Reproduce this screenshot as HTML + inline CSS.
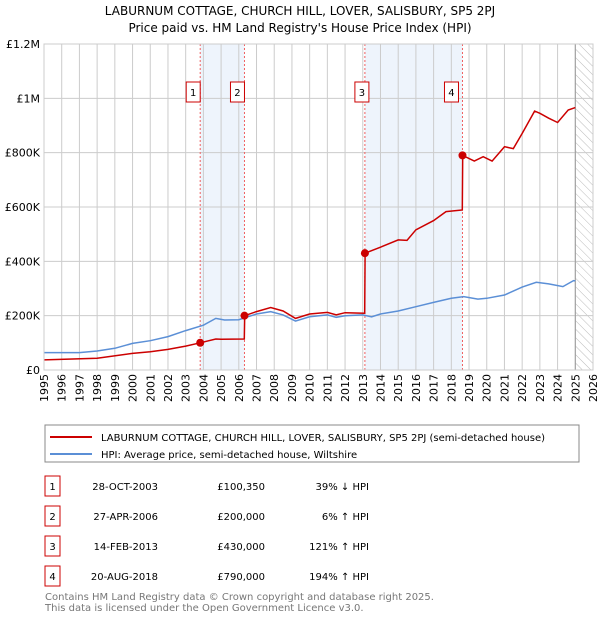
<!DOCTYPE html>
<html><head><meta charset="utf-8"><style>
body{margin:0;background:#fff;font-family:"Liberation Sans","DejaVu Sans",sans-serif;}
svg text{font-family:"DejaVu Sans","Liberation Sans",sans-serif;}
</style></head><body>
<svg width="600" height="620" viewBox="0 0 600 620">
<defs><pattern id="hatch" width="6" height="6" patternUnits="userSpaceOnUse" patternTransform="rotate(-45)"><line x1="0" y1="0" x2="0" y2="6" stroke="#bbb" stroke-width="1"/></pattern></defs>
<text x="300" y="15" text-anchor="middle" font-size="12">LABURNUM COTTAGE, CHURCH HILL, LOVER, SALISBURY, SP5 2PJ</text>
<text x="300" y="32" text-anchor="middle" font-size="12">Price paid vs. HM Land Registry's House Price Index (HPI)</text>
<g id="plot"></g>
<rect x="45" y="425" width="534" height="37" fill="#fff" stroke="#888"/>
<line x1="50" y1="437" x2="92" y2="437" stroke="#cc0000" stroke-width="2"/>
<text x="101" y="441" font-size="10">LABURNUM COTTAGE, CHURCH HILL, LOVER, SALISBURY, SP5 2PJ (semi-detached house)</text>
<line x1="50" y1="454" x2="92" y2="454" stroke="#5b8fd6" stroke-width="2"/>
<text x="101" y="458" font-size="10">HPI: Average price, semi-detached house, Wiltshire</text>
<g id="table" font-size="10"></g>
<text x="45" y="600" font-size="10" fill="#777">Contains HM Land Registry data © Crown copyright and database right 2025.</text>
<text x="45" y="611" font-size="10" fill="#777">This data is licensed under the Open Government Licence v3.0.</text>
</svg>
<script>
const yTicks=[0,200000,400000,600000,800000,1000000,1200000];
const yTickLabels=["£0","£200K","£400K","£600K","£800K","£1M","£1.2M"];
const years=[1995,1996,1997,1998,1999,2000,2001,2002,2003,2004,2005,2006,2007,2008,2009,2010,2011,2012,2013,2014,2015,2016,2017,2018,2019,2020,2021,2022,2023,2024,2025,2026];
const hpiT=[1995,1997,1998,1999,2000,2001,2002,2003,2004,2004.7,2005.2,2006,2007,2007.8,2008.5,2009.2,2010,2011,2011.5,2012,2013,2013.5,2014,2015,2016,2017,2018,2018.7,2019.5,2020,2021,2022,2022.8,2023.5,2024.3,2024.9,2025];
const hpiV=[64,64,70,80,98,108,123,145,165,190,184,185,206,215,203,180,196,203,194,200,203,196,206,217,233,249,264,270,261,264,276,305,323,317,307,329,328];
const priceT=[1995,1998,2000,2001,2002,2003,2003.82,2004.7,2005,2006.31,2006.33,2007,2007.8,2008.5,2009.2,2010,2011,2011.5,2012,2013.11,2013.13,2014,2015,2015.5,2016,2017,2017.7,2018.62,2018.64,2019.3,2019.8,2020.3,2021,2021.5,2022,2022.7,2023,2023.5,2024,2024.6,2025];
const priceV=[37,43,61,67,76,88,100,114,113,114,200,215,230,217,190,206,212,203,211,209,430,452,479,477,516,550,583,589,790,769,785,769,822,815,871,953,945,927,911,957,966];
const saleT=[2003.82,2006.32,2013.12,2018.63];
const saleV=[100350,200000,430000,790000];
const saleLabels=["1","2","3","4"];
const saleDates=["28-OCT-2003","27-APR-2006","14-FEB-2013","20-AUG-2018"];
const salePrices=["£100,350","£200,000","£430,000","£790,000"];
const saleHpi=["39% ↓ HPI","6% ↑ HPI","121% ↑ HPI","194% ↑ HPI"];
const X0=44,X1=593,Y0=370,Y1=44;
const sx=t=>X0+(t-1995)/(2026-1995)*(X1-X0);
const sy=v=>Y0-v/1200000*(Y0-Y1);
const NS="http://www.w3.org/2000/svg";
const plot=document.getElementById('plot');
function mk(tag,attrs,parent){const e=document.createElementNS(NS,tag);for(const k in attrs)e.setAttribute(k,attrs[k]);(parent||plot).appendChild(e);return e;}
mk('rect',{x:X0,y:Y1,width:X1-X0,height:Y0-Y1,fill:'#fff'});
for(const [a,b] of [[0,1],[2,3]]){const r=mk('rect',{x:sx(saleT[a]),y:Y1,width:sx(saleT[b])-sx(saleT[a]),height:Y0-Y1,fill:'#eef4fc'});

}
const h=mk('rect',{x:sx(2025),y:Y1,width:X1-sx(2025),height:Y0-Y1,fill:'url(#hatch)'});


years.forEach(y=>{mk('line',{x1:sx(y),x2:sx(y),y1:Y1,y2:Y0,stroke:'#ccc','stroke-width':1});
const x=sx(y)+4;
const t=mk('text',{x:x,y:374,'text-anchor':'end','font-size':11,transform:'rotate(-90 '+x+' 374)'});t.textContent=y;

});
yTicks.forEach((v,i)=>{mk('line',{x1:X0,x2:X1,y1:sy(v),y2:sy(v),stroke:'#ccc','stroke-width':1});
const t=mk('text',{x:X0-4,y:sy(v)+4,'text-anchor':'end','font-size':11});t.textContent=yTickLabels[i];

});
mk('line',{x1:sx(2025),x2:sx(2025),y1:Y1,y2:Y0,stroke:'#999','stroke-width':1});
saleT.forEach((t,i)=>{const l=mk('line',{x1:sx(t),x2:sx(t),y1:Y1,y2:Y0,stroke:'#f06060','stroke-width':1,'stroke-dasharray':'2,2'});


const bx=sx(t)-(i==3?11:i==2?3:7);
const b=mk('rect',{x:bx-7,y:82,width:14,height:20,fill:'#fff',stroke:'#cc0000'});


const tx=mk('text',{x:bx,y:96,'text-anchor':'middle','font-size':10});tx.textContent=saleLabels[i];});
const pts=(T,V)=>T.map((t,i)=>sx(t).toFixed(1)+','+sy(V[i]*1000).toFixed(1)).join(' ');
const hp=mk('polyline',{points:pts(hpiT,hpiV),fill:'none',stroke:'#5b8fd6','stroke-width':1.5});


const pp=mk('polyline',{points:pts(priceT,priceV),fill:'none',stroke:'#cc0000','stroke-width':1.5});


saleT.forEach((t,i)=>{const d=mk('circle',{cx:sx(t),cy:sy(saleV[i]),r:4,fill:'#cc0000'});

});
mk('rect',{x:X0,y:Y1,width:X1-X0,height:Y0-Y1,fill:'none',stroke:'#ccc'});
const tb=document.getElementById('table');
saleLabels.forEach((s,i)=>{const y=486+i*30;
const b=mk('rect',{x:45,y:y-10,width:15,height:20,fill:'#fff',stroke:'#cc0000'},tb);


const cells=[[52.5,s,'middle'],[158,saleDates[i],'end'],[265,salePrices[i],'end'],[369,saleHpi[i],'end']];
cells.forEach(c=>{const t=mk('text',{x:c[0],y:y+4,'text-anchor':c[2]},tb);t.textContent=c[1];

});});
</script>
</body></html>
